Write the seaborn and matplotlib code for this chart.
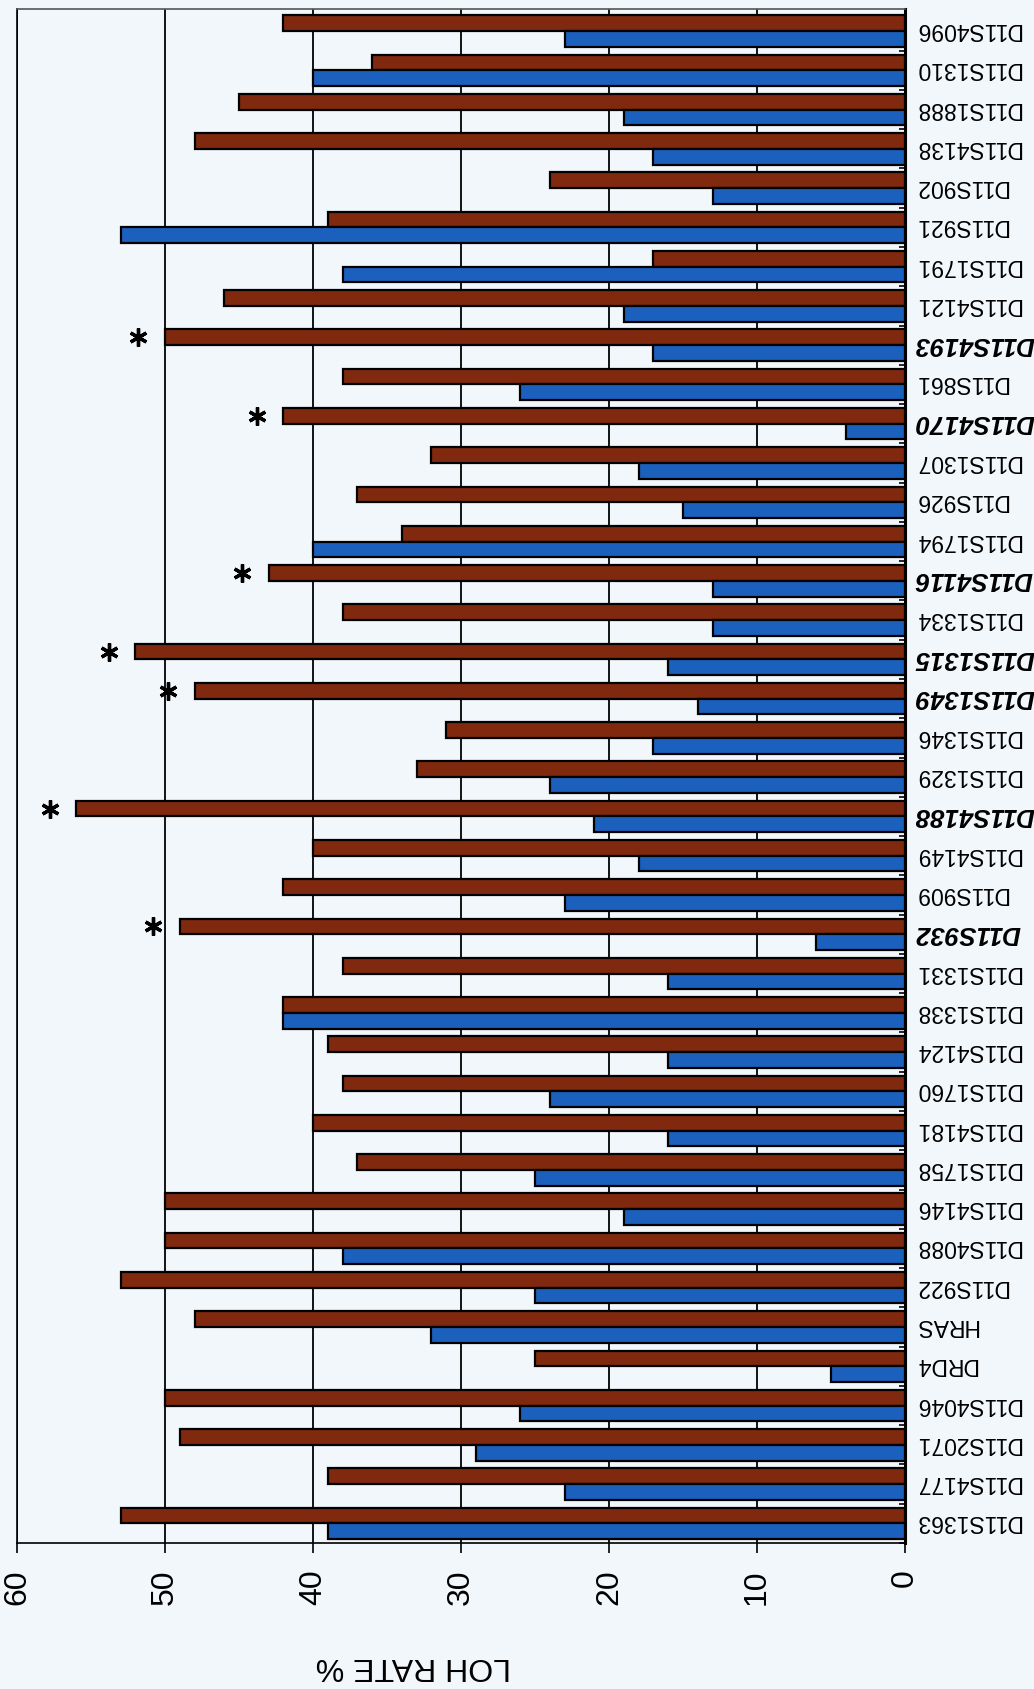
import numpy as np
import pandas as pd
import matplotlib
matplotlib.use("Agg")
import matplotlib.pyplot as plt
import matplotlib.transforms as mtransforms
import seaborn as sns

# Microsatellite markers along chromosome 11, in map order
markers = [
    "D11S1363", "D11S4177", "D11S2071", "D11S4046", "DRD4", "HRAS", "D11S922",
    "D11S4088", "D11S4146", "D11S1758", "D11S4181", "D11S1760", "D11S4124",
    "D11S1338", "D11S1331", "D11S932", "D11S909", "D11S4149", "D11S4188",
    "D11S1329", "D11S1346", "D11S1349", "D11S1315", "D11S1334", "D11S4116",
    "D11S1794", "D11S926", "D11S1307", "D11S4170", "D11S861", "D11S4193",
    "D11S4121", "D11S1791", "D11S921", "D11S902", "D11S4138", "D11S1888",
    "D11S1310", "D11S4096",
]

# LOH rate (%) per marker for the two groups
loh_group1 = [39, 23, 29, 26, 5, 32, 25, 38, 19, 25, 16, 24, 16, 42, 16, 6, 23,
              18, 21, 24, 17, 14, 16, 13, 13, 40, 15, 18, 4, 26, 17, 19, 38, 53,
              13, 17, 19, 40, 23]
loh_group2 = [53, 39, 49, 50, 25, 48, 53, 50, 50, 37, 40, 38, 39, 42, 38, 49, 42,
              40, 56, 33, 31, 48, 52, 38, 43, 34, 37, 32, 42, 38, 50, 46, 17, 39,
              24, 48, 45, 36, 42]

# Markers with a significant difference between the groups
significant = ["D11S932", "D11S4188", "D11S1349", "D11S1315", "D11S4116",
               "D11S4170", "D11S4193"]

x_ticks = [0, 10, 20, 30, 40, 50, 60]
x_label = "LOH RATE %"

group_names = ["Group 1", "Group 2"]
palette = {"Group 1": "#1b60bd", "Group 2": "#80290f"}

df = pd.DataFrame({
    "marker": markers * 2,
    "loh": loh_group1 + loh_group2,
    "group": [group_names[0]] * len(markers) + [group_names[1]] * len(markers),
})

bg = "#f2f7fb"
sns.set_theme(style="white")
plt.rcParams["font.family"] = ["Liberation Sans", "DejaVu Sans"]

fig = plt.figure(figsize=(10.34, 16.89), dpi=100, facecolor=bg)
ax = fig.add_axes([17 / 1034, 1 - 1543 / 1689, (905 - 17) / 1034, (1543 - 9) / 1689])
ax.set_facecolor(bg)

order = markers[::-1]
sns.barplot(
    data=df, y="marker", x="loh", hue="group", orient="h",
    order=order, hue_order=[group_names[1], group_names[0]],
    palette=palette, saturation=1, width=0.8,
    edgecolor="black", linewidth=1.6, legend=False, ax=ax,
)

ax.set_xlim(60, 0)
ax.set_ylim(len(markers) - 1 + 0.47, -0.56)
ax.set_xticks(x_ticks)
ax.set_xticklabels([str(t) for t in x_ticks], rotation=90, fontsize=23)
ax.tick_params(axis="x", direction="out", length=7, width=1.2, pad=12,
               bottom=True, colors="black")
ax.set_axisbelow(True)
ax.grid(axis="x", color="black", linewidth=1.3)
ax.grid(axis="y", visible=False)

# category labels on the right, upside down
ax.yaxis.tick_right()
ax.yaxis.set_label_position("right")
ax.tick_params(axis="y", which="major", length=0, pad=7, labelsize=16.5,
               labelrotation=180)
ax.set_yticks(np.arange(len(order)) + 0.5, minor=True)
ax.tick_params(axis="y", which="minor", direction="in", length=4, width=1.2,
               right=True, left=False, color="black")
lift = mtransforms.ScaledTranslation(0, 4 / 100, fig.dpi_scale_trans)
for lab in ax.get_yticklabels():
    lab.set_color("black")
    lab.set_transform(lab.get_transform() + lift)
    if lab.get_text() in significant:
        lab.set_fontweight("bold")
        lab.set_fontstyle("italic")
        lab.set_fontsize(18.5)

ax.set_xlabel("")
ax.set_ylabel("")
ax.text(0.446, -0.080, x_label, transform=ax.transAxes, rotation=180,
        ha="center", va="center", fontsize=23, color="black")

for side in ["left", "bottom", "top"]:
    ax.spines[side].set_visible(True)
    ax.spines[side].set_color("black")
    ax.spines[side].set_linewidth(1.2)
ax.spines["top"].set_color("#555555")
ax.spines["right"].set_color("black")
ax.spines["right"].set_linewidth(2.2)

# asterisks beside the group 2 bars of significant markers
brown_bars = ax.containers[0]
for name, bar in zip(order, brown_bars):
    if name in significant:
        yc = bar.get_y() + bar.get_height() / 2
        ax.plot(bar.get_width() + 1.8, yc, marker=(6, 2, 0), markersize=13,
                markeredgewidth=2.4, color="black", clip_on=False)

fig.savefig("out.png", dpi=100, facecolor=bg)
